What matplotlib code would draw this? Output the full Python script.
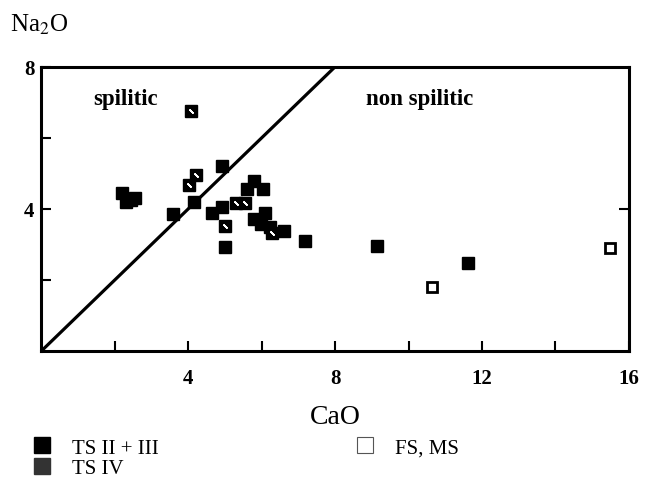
import matplotlib.pyplot as plt
from matplotlib.lines import Line2D

plt.rcParams['font.family'] = ['Liberation Serif', 'DejaVu Serif']

# CaO, Na2O values
ts23_cao = [2.2, 2.3, 2.45, 2.55, 3.6, 4.17, 4.93, 4.66, 4.93, 5.78, 5.61, 6.05,
            5.78, 5.97, 6.1, 6.24, 6.6, 5.01, 7.17, 9.13, 11.63]
ts23_na2o = [4.45, 4.2, 4.25, 4.3, 3.86, 4.2, 5.21, 3.9, 4.06, 4.79, 4.56, 4.56,
             3.72, 3.58, 3.9, 3.5, 3.38, 2.93, 3.1, 2.96, 2.48]

ts4_cao = [4.09, 4.03, 4.22, 4.99, 5.31, 5.56, 6.29]
ts4_na2o = [6.76, 4.68, 4.96, 3.52, 4.17, 4.17, 3.32]

fsms_cao = [10.65, 15.48]
fsms_na2o = [1.8, 2.9]

boundary_cao = [0, 8]
boundary_na2o = [0, 8]

fig = plt.figure(figsize=(6.45, 4.81), dpi=100)
ax = fig.add_axes([0.064, 0.268, 0.911, 0.591])

ax.plot(boundary_cao, boundary_na2o, color='black', lw=2.3, zorder=2)

ax.plot(ts23_cao, ts23_na2o, ls='none', marker='s', ms=8, mfc='black',
        mec='black', zorder=3)
ax.plot(ts4_cao, ts4_na2o, ls='none', marker='s', ms=8, mfc='black',
        mec='black', zorder=3)
ax.plot(ts4_cao, ts4_na2o, ls='none', marker=(2, 2, 45), ms=4, color='white',
        mew=1.2, zorder=4)
ax.plot(fsms_cao, fsms_na2o, ls='none', marker='s', ms=7, mfc='white',
        mec='black', mew=2, zorder=3)

ax.set_xlim(0, 16)
ax.set_ylim(0, 8)
for s in ax.spines.values():
    s.set_linewidth(2.2)

ax.set_xticks([2, 4, 6, 8, 10, 12, 14, 16])
ax.set_xticklabels(['', '4', '', '8', '', '12', '', '16'])
ax.set_yticks([2, 4, 6, 8])
ax.set_yticklabels(['', '4', '', '8'])
ax.tick_params(direction='in', length=7, width=1.5, labelsize=15)
ax.tick_params(axis='x', pad=12)
ax.tick_params(axis='y', pad=5)
for lab in ax.get_xticklabels() + ax.get_yticklabels():
    lab.set_fontweight('bold')

# single tick on the right spine
rax = ax.secondary_yaxis('right')
rax.set_yticks([4])
rax.set_yticklabels([])
rax.tick_params(direction='in', length=7, width=1.5)
rax.spines['right'].set_visible(False)

ax.set_xlabel('CaO', fontsize=20, labelpad=12)
fig.text(0.015, 0.948, 'Na$_2$O', fontsize=18, ha='left', va='center',
         math_fontfamily='stix')

ax.text(1.42, 7.1, 'spilitic', fontsize=16.5, fontweight='bold', ha='left', va='center')
ax.text(8.83, 7.1, 'non spilitic', fontsize=16.5, fontweight='bold', ha='left', va='center')

handles = [
    Line2D([], [], ls='none', marker='s', ms=11, mfc='black', mec='black'),
    Line2D([], [], ls='none', marker='s', ms=11, mfc='#333333', mec='#333333'),
    Line2D([], [], ls='none', marker='s', ms=11, mfc='white', mec='#555555', mew=0.8),
]
labels = ['TS II + III', 'TS IV', 'FS, MS']
fig.legend(handles, labels, ncol=2, loc='upper left', bbox_to_anchor=(0.049, 0.087),
           frameon=False, fontsize=15, handlelength=1.0, handletextpad=0.94,
           columnspacing=9.4, labelspacing=0.05, borderaxespad=0, borderpad=0)

fig.savefig('out.png', dpi=100)
